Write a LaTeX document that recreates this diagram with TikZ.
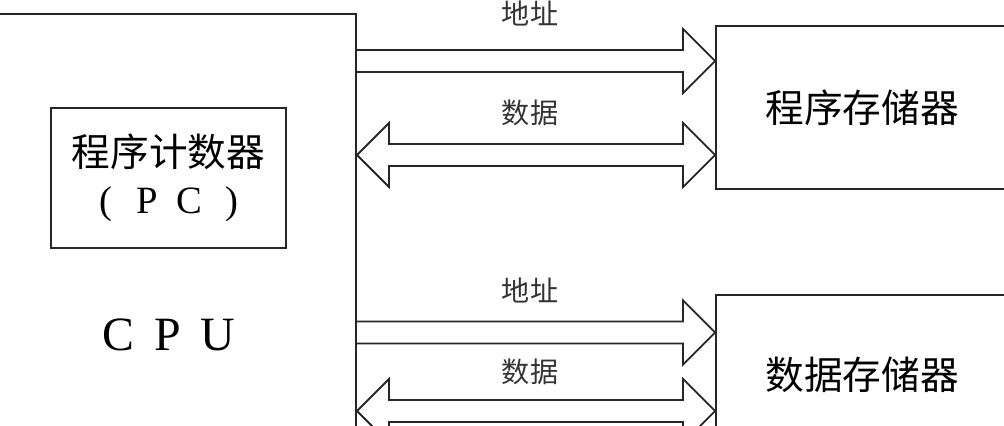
\documentclass[tikz,border=0pt]{standalone}
\usepackage{fontspec}
\setmainfont{Liberation Serif}
\newfontfamily\cjk{Noto Sans CJK SC}
\usetikzlibrary{calc}
\tikzset{
  box/.style={draw=black!85, line width=1.3pt, inner sep=0pt},
  bus/.style={draw=black!85, line width=1.3pt, line join=miter},
  % one-way bus: open at the start, head at the target
  onebus/.style={to path={
    ($(\tikztostart)+(0,-11)$) -- ($(\tikztotarget)+(-32,-11)$) -- ($(\tikztotarget)+(-32,-32)$)
    -- (\tikztotarget) -- ($(\tikztotarget)+(-32,32)$) -- ($(\tikztotarget)+(-32,11)$)
    -- ($(\tikztostart)+(0,11)$)}},
  % two-way bus: heads at both ends
  twobus/.style={to path={
    -- ($(\tikztostart)+(32,-32)$) -- ($(\tikztostart)+(32,-11)$) -- ($(\tikztotarget)+(-32,-11)$)
    -- ($(\tikztotarget)+(-32,-32)$) -- (\tikztotarget) -- ($(\tikztotarget)+(-32,32)$)
    -- ($(\tikztotarget)+(-32,11)$) -- ($(\tikztostart)+(32,11)$) -- ($(\tikztostart)+(32,32)$) -- cycle}},
  buslabel/.style={font=\cjk\fontsize{20}{24}\selectfont, text=black!80}
}
\begin{document}
\begin{tikzpicture}[x=0.025cm, y=-0.025cm]
\useasboundingbox (0,0) rectangle (1004,426);
\node[box, minimum width=9.4cm, minimum height=11.4cm] (cpu) at (168,242) {};
\node[box, minimum width=5.875cm, minimum height=3.5cm, align=center, font=\fontsize{27.5}{33.4}\selectfont] (pc) at (168.5,178)
  {{\cjk 程序计数器}\\\makebox[1.05cm]{(}\makebox[1.05cm]{P}\makebox[1.05cm]{C}\makebox[1.05cm]{)}};
\node[font=\fontsize{34}{40}\selectfont] (cputext) at (168,335) {\makebox[1.25cm]{C}\makebox[1.25cm]{P}\makebox[1.25cm]{U}};
\node[box, minimum width=7.3cm, minimum height=4.075cm, font=\cjk\fontsize{27.5}{33}\selectfont] (pmem) at (862,107.5) {程序存储器};
\node[box, minimum width=7.3cm, minimum height=4cm, font=\cjk\fontsize{27.5}{33}\selectfont] (dmem) at (862,375) {数据存储器};
\draw[bus] (cpu.east |- 0,61) to[onebus] (pmem.west |- 0,61);
\draw[bus] (cpu.east |- 0,155) to[twobus] (pmem.west |- 0,155);
\draw[bus] (cpu.east |- 0,332.5) to[onebus] (dmem.west |- 0,332.5);
\draw[bus] (cpu.east |- 0,411) to[twobus] (dmem.west |- 0,411);
\node[buslabel] (paddr) at (530,13) {地址};
\node[buslabel] (pdata) at (530,113) {数据};
\node[buslabel] (daddr) at (530,290) {地址};
\node[buslabel] (ddata) at (530,372) {数据};
\end{tikzpicture}
\end{document}
